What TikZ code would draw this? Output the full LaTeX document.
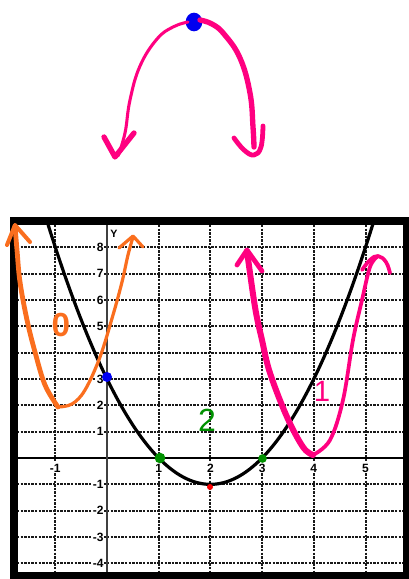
\documentclass[tikz,border=0pt]{standalone}
\usepackage{fontspec}
\setmainfont{Liberation Sans}
\usetikzlibrary{shapes.geometric}
\definecolor{hotpink}{RGB}{255,0,128}
\definecolor{orng}{RGB}{250,110,30}
\definecolor{grn}{RGB}{0,145,0}
\definecolor{blu}{RGB}{0,0,240}
\definecolor{rd}{RGB}{250,0,0}
\tikzset{
  gridln/.style={line width=1.5pt, black!90, dash pattern=on 1.8pt off 0.9pt},
  lab/.style={font=\fontsize{9}{10}\selectfont\bfseries, fill=white, inner sep=0.5pt},
  ylab/.style={lab, anchor=east},
  xlab/.style={lab, anchor=north},
  pinkpen/.style={draw=hotpink, line cap=round, line join=round},
  orngpen/.style={draw=orng, line cap=round, line join=round},
  dotmark/.style={circle, inner sep=0pt, minimum size=#1},
}
\begin{document}
\begin{tikzpicture}[x=0.75pt,y=-0.75pt]
\useasboundingbox (0,0) rectangle (409,579);
\fill[white] (0,0) rectangle (409,579);

% ---- top sketch: downward opening parabola ----
\node[ellipse, inner sep=0pt, minimum width=12.5pt, minimum height=14pt, fill=blu] (topdot) at (194,22) {};
\draw[pinkpen, line width=2.3pt] plot[smooth, tension=0.7] coordinates {(188,22) (173,27) (157,39) (140,66) (130,100) (125,133) (118,156)};
\draw[pinkpen, line width=4pt] (104,137) -- (115,157) -- (134,133);
\draw[pinkpen, line width=4pt] plot[smooth, tension=0.7] coordinates {(200,20) (212,24) (224,34) (240,58) (250,93) (253,127) (254,147)};
\draw[pinkpen, line width=3.6pt] plot[smooth, tension=0.7] coordinates {(234,138) (244,150) (254,155) (261,147) (263,126)};

% ---- graph ----
\begin{scope}
\clip (17,225) rectangle (403,572);
\foreach \k in {8,7,6,5,4,3,2,1,-1,-2,-3,-4}
  \draw[gridln] (17,{458-26.35*\k}) -- (403,{458-26.35*\k});
\foreach \k in {-1,1,2,3,4,5}
  \draw[gridln] ({107+51.7*\k},225) -- ({107+51.7*\k},572);
\draw[line width=1.6pt, black] (17,458) -- (403,458);
\draw[line width=1.7pt, black!75] (107,225) -- (107,572);
\end{scope}

% axis labels
\node[font=\fontsize{8}{9}\selectfont\bfseries] (ylabel) at (114,234) {Y};
\foreach \k/\t in {8/8,7/7,6/6,5/5,3/3,2/2,1/1,-1/-1,-2/-2,-3/-3,-4/-4}
  \node[ylab] at (104.5,{458-26.35*\k}) {\t};
\foreach \k/\t in {-1/-1,1/1,2/2,3/3,4/4,5/5}
  \node[xlab] at ({107+51.7*\k},463) {\t};

% black parabola y=(x-1)(x-3)
\begin{scope}
\clip (17,225) rectangle (403,572);
\draw[line width=2.4pt, black] plot[domain=-1.25:5.25, samples=140] ({107+51.7*\x},{458-26.35*(\x*\x-4*\x+3)});
\end{scope}

% frame
\draw[line width=6pt, black] (13.5,221) rectangle (406.5,576);

% points
\node[dotmark=7.5pt, fill=blu] (yint) at (107,377) {};
\node[dotmark=8pt, fill=grn] (r1) at (160,458) {};
\node[dotmark=6.5pt, fill=grn] (r3) at (262.5,458.5) {};
\node[dotmark=4.5pt, fill=rd] (vtx) at (210,487) {};

% orange sketch
\draw[orngpen, line width=3.6pt] plot[smooth, tension=0.6] coordinates {(15,226) (17,250) (20,282) (27,320) (35,352) (45,385) (58,407)};
\draw[orngpen, line width=2.4pt] plot[smooth, tension=0.6] coordinates {(58,407) (72,404) (85,390) (100,357) (113,315) (122,282) (128,255) (133,237)};
\draw[orngpen, line width=3pt] (7,245) -- (15,225) -- (30,242);
\draw[orngpen, line width=2.4pt] (119,248) -- (133,236) -- (143,247);
\node[text=orng, font=\fontsize{25}{25}\selectfont\bfseries] (zero) at (61,325) {0};

% pink sketch in graph
\draw[pinkpen, line width=4.5pt] plot[smooth, tension=0.6] coordinates {(247,251) (255,307) (262,340) (270,373) (287,417) (303,447) (313,455)};
\draw[pinkpen, line width=2.8pt] plot[smooth, tension=0.6] coordinates {(313,455) (330,440) (343,400) (353,340) (362,300) (370,267) (377,257)};
\draw[pinkpen, line width=3.6pt] (237,265) -- (247,250) -- (262,271);
\draw[pinkpen, line width=2.8pt] plot[smooth, tension=0.7] coordinates {(362,270) (370,260) (378,256) (386,262) (390,273)};
\node[text=hotpink, font=\fontsize{22}{22}\selectfont] (one) at (322,391) {1};

% green label
\node[text=grn, font=\fontsize{24}{24}\selectfont] (two) at (207,420) {2};
\end{tikzpicture}
\end{document}
